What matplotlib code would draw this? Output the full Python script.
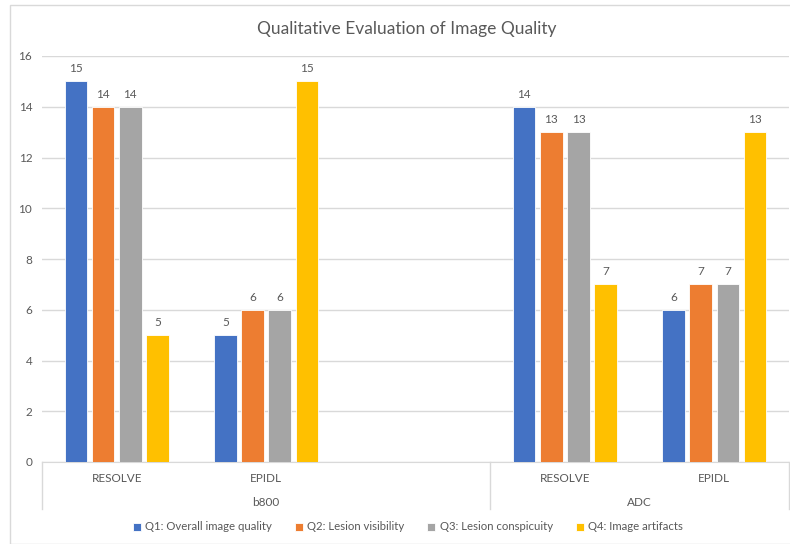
import matplotlib
matplotlib.use("Agg")
import matplotlib.pyplot as plt
import numpy as np

plt.rcParams['font.family'] = ['Lato', 'DejaVu Sans']

# data
groups = ["b800", "ADC"]
categories = ["RESOLVE", "EPIDL", "", "RESOLVE", "EPIDL"]
series = ["Q1: Overall image quality", "Q2: Lesion visibility",
          "Q3: Lesion conspicuity", "Q4: Image artifacts"]
q1 = [15, 5, None, 14, 6]
q2 = [14, 6, None, 13, 7]
q3 = [14, 6, None, 13, 7]
q4 = [5, 15, None, 7, 13]
colors = ["#4472c4", "#ed7d31", "#a5a5a5", "#ffc000"]

txt = "#595959"
W, H = 790, 544
fig = plt.figure(figsize=(W / 100, H / 100), dpi=100)

# outer chart border
fig.patches.append(plt.Rectangle((10 / W, 0), 1, 1 - 5 / H, transform=fig.transFigure,
                                 fill=False, edgecolor="#d9d9d9", linewidth=1))

ax = fig.add_axes([42 / W, 1 - 462 / H, (789 - 42) / W, (462 - 56) / H])
x = np.arange(len(categories)) + 0.5
step = 0.182
width = 0.15
for i, (vals, c, name) in enumerate(zip([q1, q2, q3, q4], colors, series)):
    xs = [xx + (i - 1.5) * step for xx, v in zip(x, vals) if v is not None]
    vs = [v for v in vals if v is not None]
    bars = ax.bar(xs, vs, width, color=c, label=name, zorder=3,
                  edgecolor="white", linewidth=0.6)
    ax.bar_label(bars, padding=5, color=txt, fontsize=8.5)

ax.set_xlim(0, len(categories))
ax.set_ylim(0, 16)
ax.set_yticks(range(0, 17, 2))
ax.tick_params(axis="y", length=0, labelcolor=txt, labelsize=8.5, pad=7)
ax.set_xticks([])
ax.grid(axis="y", color="#d9d9d9", linewidth=1, zorder=0)
for s in ["top", "right", "left"]:
    ax.spines[s].set_visible(False)
ax.spines["bottom"].set_color("#d9d9d9")

# multi-level category axis
tr = ax.get_xaxis_transform()
depth = -(509 - 462) / (462 - 56)
for xv in [0, 3, 5]:
    ax.plot([xv, xv], [0, depth], transform=tr, color="#d9d9d9", lw=1, clip_on=False)
lvl1 = -(478 - 462) / (462 - 56)
lvl2 = -(502 - 462) / (462 - 56)
for xx, lab in zip(x, categories):
    ax.text(xx, lvl1, lab, transform=tr, ha="center", va="center", color=txt, fontsize=8.5)
ax.text(1.5, lvl2, groups[0], transform=tr, ha="center", va="center", color=txt, fontsize=8.5)
ax.text(4.0, lvl2, groups[1], transform=tr, ha="center", va="center", color=txt, fontsize=8.5)

fig.text(407 / W, 1 - 29 / H, "Qualitative Evaluation of Image Quality",
         ha="center", va="center", color=txt, fontsize=12.5)

fig.legend(loc="center", bbox_to_anchor=(408 / W, 1 - 527 / H), ncol=4, frameon=False,
           fontsize=8.2, labelcolor=txt, handlelength=0.7, handleheight=0.7,
           handletextpad=0.4, columnspacing=2.0)

fig.savefig("out.png", dpi=100)
